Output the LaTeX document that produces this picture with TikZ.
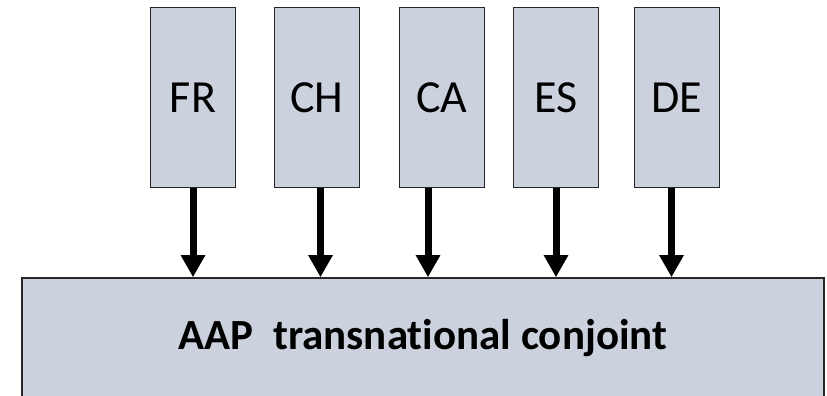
\documentclass[tikz,border=0pt]{standalone}
\usepackage{fontspec}
\setmainfont{Carlito}[Ligatures=NoCommon]
\usetikzlibrary{positioning,arrows.meta}
\definecolor{boxfill}{RGB}{203,210,222}
\tikzset{country node/.style={rectangle,fill=boxfill,draw=black!85,line width=1pt,minimum width=85pt,minimum height=180pt,inner sep=0pt,font=\fontsize{46}{50}\selectfont}}
\tikzset{pool node/.style={rectangle,fill=boxfill,draw=black!85,line width=1.5pt,minimum width=802pt,minimum height=121pt,inner sep=0pt,font=\bfseries\fontsize{43}{47}\selectfont}}
\tikzset{flow/.style={-{Triangle[width=23pt,length=22pt]},line width=7pt}}

\begin{document}
\begin{tikzpicture}[x=1pt,y=1pt]
        \useasboundingbox (0,0) rectangle (827,396);
        \node[country node] (fr) at (193,298.5) {FR};
        \node[country node] (ch) [right = 38pt of fr] {CH};
        \node[country node] (ca) [right = 39pt of ch] {CA};
        \node[country node] (es) [right = 28pt of ca] {ES};
        \node[country node] (de) [right = 35pt of es] {DE};
        \node[pool node] (aap) at (423,57.5) {\raisebox{-3pt}{AAP\ \ transnational conjoint}};

        \draw[flow] (fr.south) -- (fr.south |- aap.north);
        \draw[flow] ([xshift=3.5pt]ch.south) -- ([xshift=3.5pt]ch.south |- aap.north);
        \draw[flow] ([xshift=-14pt]ca.south) -- ([xshift=-14pt]ca.south |- aap.north);
        \draw[flow] (es.south) -- (es.south |- aap.north);
        \draw[flow] ([xshift=-5.5pt]de.south) -- ([xshift=-5.5pt]de.south |- aap.north);
    \end{tikzpicture}
\end{document}
